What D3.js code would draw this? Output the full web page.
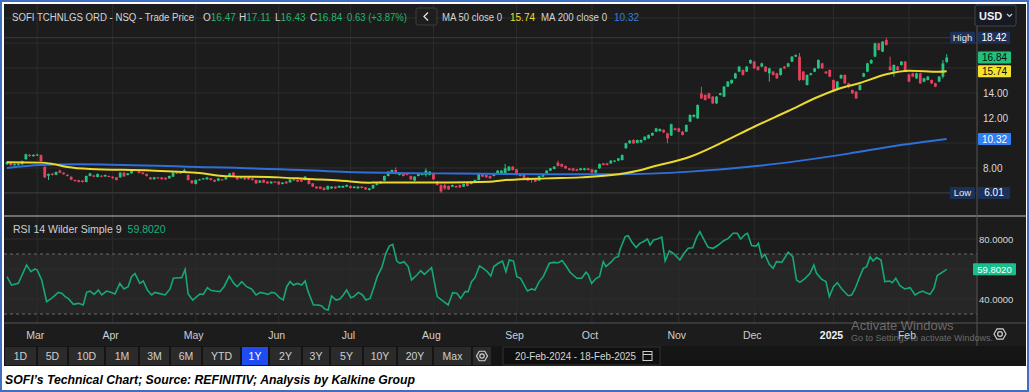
<!DOCTYPE html>
<html>
<head>
<meta charset="utf-8">
<script src="https://cdn.jsdelivr.net/npm/d3@7"></script>
<style>
  body { margin: 0; background: #fff; }
  svg { display: block; }
  text { font-family: "Liberation Sans", Arial, sans-serif; }
</style>
</head>
<body>
<div id="chart"></div>
<script>
// daily candles, 20-Feb-2024 .. 18-Feb-2025, [open, high, low, close]
const ohlc = [
  [8.30,8.55,8.25,8.48],[8.40,8.45,8.18,8.22],[8.22,8.36,8.18,8.32],[8.24,8.38,8.20,8.34],[8.30,8.60,8.26,8.55],
  [8.70,9.15,8.66,9.10],[9.05,9.12,8.90,8.95],[8.95,9.10,8.90,9.05],[9.00,9.14,8.96,9.08],[9.04,9.08,8.50,8.55],
  [8.10,8.12,7.20,7.25],[7.38,7.56,7.04,7.52],[7.55,7.60,7.40,7.45],[7.45,7.72,7.42,7.68],[7.80,7.86,7.58,7.62],
  [7.62,7.66,7.46,7.50],[7.45,7.50,7.32,7.36],[7.30,7.34,7.02,7.06],[7.04,7.08,6.92,6.95],[7.02,7.06,6.85,6.88],
  [6.99,7.02,6.84,6.88],[6.88,7.40,6.85,7.36],[7.36,7.62,7.33,7.57],[7.40,7.45,7.26,7.30],[7.28,7.56,7.25,7.52],
  [7.38,7.42,7.26,7.30],[7.32,7.48,7.29,7.44],[7.36,7.40,7.26,7.30],[7.30,7.34,7.14,7.18],[7.25,7.28,7.00,7.04],
  [7.25,7.67,7.22,7.63],[7.63,7.68,7.29,7.33],[7.44,7.61,7.40,7.57],[7.57,7.84,7.54,7.80],[7.80,7.90,7.76,7.84],
  [7.72,7.76,7.56,7.60],[7.63,7.67,7.48,7.52],[7.52,7.56,7.32,7.36],[7.25,7.28,7.06,7.10],[7.10,7.29,7.07,7.25],
  [7.25,7.28,7.13,7.17],[7.25,7.28,7.06,7.10],[7.22,7.25,7.05,7.09],[7.17,7.40,7.14,7.36],[7.31,7.67,7.28,7.63],
  [7.63,7.68,7.53,7.57],[7.57,7.74,7.54,7.70],[7.70,7.95,7.66,7.84],[7.44,7.48,7.00,7.04],[7.00,7.03,6.74,6.78],
  [6.72,7.08,6.68,7.04],[7.04,7.13,7.00,7.09],[7.09,7.21,7.05,7.17],[7.09,7.29,7.06,7.25],[7.17,7.21,7.00,7.04],
  [7.04,7.08,6.87,6.91],[6.99,7.21,6.95,7.17],[7.09,7.13,7.00,7.04],[7.09,7.35,7.06,7.31],[7.31,7.61,7.28,7.57],
  [7.63,7.67,7.27,7.31],[7.31,7.35,7.05,7.09],[7.17,7.35,7.14,7.31],[7.25,7.29,7.05,7.09],[7.25,7.28,7.06,7.09],
  [7.17,7.21,7.00,7.04],[7.04,7.07,6.73,6.77],[6.83,7.03,6.80,6.99],[7.04,7.08,6.80,6.83],[6.91,6.95,6.73,6.77],
  [6.77,6.95,6.74,6.91],[6.91,6.95,6.80,6.83],[6.91,6.94,6.65,6.69],[6.72,6.87,6.69,6.83],[6.91,6.95,6.73,6.77],
  [6.85,7.13,6.82,7.09],[7.04,7.13,7.00,7.09],[7.04,7.08,6.87,6.91],[7.04,7.08,6.88,6.91],[7.04,7.35,7.00,7.31],
  [7.09,7.12,6.68,6.72],[6.77,6.80,6.47,6.51],[6.51,6.55,6.33,6.37],[6.51,6.54,6.31,6.35],[6.43,6.46,6.20,6.24],
  [6.29,6.60,6.26,6.56],[6.37,6.55,6.34,6.51],[6.51,6.55,6.33,6.37],[6.43,6.60,6.40,6.56],[6.43,6.60,6.40,6.56],
  [6.51,6.68,6.48,6.64],[6.56,6.60,6.36,6.40],[6.40,6.55,6.37,6.51],[6.37,6.55,6.34,6.51],[6.51,6.55,6.37,6.40],
  [6.45,6.48,6.25,6.29],[6.24,6.41,6.20,6.37],[6.37,6.68,6.34,6.64],[6.64,6.81,6.61,6.77],[6.77,6.95,6.74,6.91],
  [6.99,7.40,6.96,7.36],[7.36,7.75,7.33,7.71],[7.57,7.88,7.54,7.84],[7.84,8.05,7.48,7.52],[7.44,7.67,7.41,7.63],
  [7.57,7.61,7.32,7.36],[7.57,7.61,7.40,7.44],[7.36,7.40,7.05,7.09],[6.99,7.35,6.96,7.31],[7.36,7.56,7.33,7.52],
  [7.44,7.61,7.41,7.57],[7.44,7.97,7.31,7.79],[7.44,7.75,7.41,7.71],[7.57,7.61,7.05,7.09],[6.91,6.95,6.60,6.64],
  [6.62,6.70,6.01,6.12],[6.64,6.75,6.24,6.37],[6.56,6.60,6.25,6.29],[6.51,6.68,6.48,6.64],[6.56,6.60,6.41,6.45],
  [6.64,6.68,6.41,6.45],[6.51,6.76,6.48,6.72],[6.83,6.87,6.52,6.56],[6.72,6.95,6.69,6.91],[6.83,7.08,6.80,7.04],
  [7.04,7.61,7.01,7.57],[7.52,7.56,7.27,7.31],[7.44,7.48,7.21,7.25],[7.36,7.40,7.13,7.17],[7.36,7.61,7.33,7.57],
  [7.57,7.83,7.54,7.79],[7.52,7.83,7.49,7.79],[7.57,8.32,7.54,7.97],[7.79,8.15,7.76,8.11],[8.11,8.15,7.80,7.84],
  [7.90,7.94,7.40,7.44],[7.52,7.56,7.32,7.36],[7.57,7.61,7.13,7.17],[7.25,7.29,6.95,6.99],[7.17,7.21,6.83,7.04],
  [7.17,7.21,6.87,6.91],[6.99,7.40,6.96,7.36],[7.31,7.56,7.28,7.52],[7.57,7.83,7.54,7.79],[7.79,8.01,7.76,7.97],
  [7.92,8.15,7.89,8.11],[8.43,8.59,8.12,8.16],[8.32,8.36,8.07,8.11],[8.16,8.20,7.93,7.97],[7.97,8.01,7.80,7.84],
  [7.97,8.01,7.75,7.79],[7.90,7.94,7.75,7.79],[7.84,8.01,7.80,7.97],[7.84,8.01,7.80,7.97],[7.97,8.01,7.80,7.84],
  [7.90,7.94,7.59,7.63],[7.63,7.88,7.59,7.84],[7.97,8.36,7.94,8.32],[8.37,8.41,8.20,8.24],[8.37,8.41,8.20,8.24],
  [8.37,8.63,8.33,8.59],[8.51,8.63,8.47,8.59],[8.59,8.81,8.55,8.77],[8.64,9.08,8.60,9.04],[9.58,10.02,9.54,9.98],
  [9.98,10.24,9.94,10.20],[10.24,10.30,9.93,9.97],[10.00,10.28,9.96,10.24],[10.05,10.28,10.01,10.24],[10.24,10.55,10.20,10.50],
  [10.37,10.68,10.33,10.64],[10.60,10.85,10.56,10.80],[10.91,11.22,10.87,11.17],[10.95,11.17,10.91,11.12],[11.05,11.10,10.80,10.85],
  [10.77,10.82,9.97,10.37],[10.60,11.55,10.56,11.50],[11.17,11.22,11.00,11.04],[11.17,11.22,10.87,10.91],[10.91,10.96,10.60,10.64],
  [10.91,11.49,10.87,11.44],[11.71,12.29,11.67,12.24],[12.10,12.30,12.05,12.24],[11.97,13.09,11.93,13.04],[13.97,14.50,13.53,13.57],
  [13.84,13.90,13.40,13.44],[13.97,14.02,13.53,13.57],[13.71,13.76,13.13,13.17],[13.17,13.76,13.13,13.71],[13.84,14.02,13.80,13.97],
  [13.71,14.56,13.67,14.51],[14.51,14.96,14.47,14.91],[14.77,15.09,14.73,15.04],[15.17,15.62,15.13,15.57],[15.71,16.16,15.67,16.11],
  [15.84,15.89,15.40,15.44],[15.71,16.16,15.67,16.11],[16.37,16.69,16.33,16.64],[16.51,16.56,15.93,15.97],[16.11,16.16,15.80,15.84],
  [16.11,16.42,16.07,16.37],[16.11,16.16,15.67,15.71],[15.57,16.02,14.91,15.97],[15.71,15.76,15.40,15.44],[15.57,15.62,15.13,15.17],
  [15.44,16.02,15.40,15.97],[16.11,16.16,15.93,15.97],[16.11,16.42,16.07,16.37],[16.51,16.96,16.47,16.91],[16.91,17.09,16.87,17.04],
  [16.91,17.20,14.95,15.04],[15.71,15.76,15.00,15.04],[14.64,15.49,14.60,15.44],[15.44,15.62,15.40,15.57],[15.71,16.02,15.67,15.97],
  [15.97,16.69,15.93,16.64],[16.37,16.42,15.93,15.97],[15.71,15.76,15.53,15.57],[15.84,15.89,15.27,15.31],[15.04,15.08,14.07,14.11],
  [14.24,14.96,14.20,14.91],[15.17,15.49,15.13,15.44],[15.44,15.49,14.73,14.77],[14.77,14.82,14.37,14.51],[14.24,14.28,13.93,13.97],
  [14.11,14.15,13.53,13.57],[14.24,14.69,14.20,14.64],[15.31,15.62,15.27,15.57],[15.71,16.42,15.67,16.37],[16.37,16.69,16.33,16.64],
  [16.91,18.02,16.87,17.97],[17.97,18.02,17.40,17.44],[17.31,18.16,17.27,18.11],[18.24,18.42,17.80,17.84],[16.11,16.91,15.80,15.84],
  [15.71,16.29,15.31,16.24],[16.11,16.16,15.80,15.84],[16.24,16.56,16.20,16.51],[16.51,16.56,15.67,15.71],[15.49,15.53,14.87,14.91],
  [15.57,15.62,15.27,15.31],[15.17,15.62,15.13,15.57],[15.57,15.62,14.73,14.77],[14.91,15.22,14.87,15.17],[15.04,15.36,15.00,15.31],
  [15.04,15.08,14.73,14.77],[14.77,14.82,14.47,14.51],[14.91,15.36,14.87,15.31],[15.31,16.64,15.17,16.37],[16.47,17.11,16.43,16.84]
];

// moving averages, [day index, value]
const ma50 = [[0,8.46],[9,8.43],[12,8.33],[16,8.08],[22,7.92],[38,7.8],[51,7.6],[58,7.35],[72,7.25],[80,7.12],
  [88,7.0],[96,6.83],[105,6.85],[117,6.85],[128,6.9],[131,7.0],[143,7.17],[152,7.25],[162,7.5],[168,7.84],
  [171,8.1],[181,8.9],[189,9.97],[198,11.3],[207,12.56],[215,13.7],[221,14.4],[226,14.8],[233,15.5],[239,15.78],
  [247,15.7],[249,15.74]];
const ma200 = [[0,8.0],[9,8.24],[19,8.3],[48,8.1],[78,7.84],[90,7.68],[115,7.57],[141,7.5],[162,7.5],[181,7.71],
  [200,8.2],[223,9.15],[236,9.8],[249,10.32]];

// RSI 14, [day index, value]
const rsi = [[0,54.9],[1.2,49.3],[3,50.4],[5.2,62.7],[6.3,58.2],[7.4,60],[8,59.3],[9.2,52.7],[10.5,38.2],[11.8,40.4],
  [13.6,44.4],[14.5,43.8],[15.4,41.6],[16.2,40.4],[17.6,36.4],[18.9,37.1],[20.2,36],[21.1,44.4],[22,45.3],[23.1,43.1],
  [24.2,46],[25.1,42.7],[26.4,45.3],[27.5,44.5],[28.6,43.3],[29.9,50.4],[31,46.7],[32.1,48.2],[33,54.9],[33.9,56.9],
  [35.2,50.4],[36.1,52],[37.2,46],[38.3,42.7],[39.2,44.4],[40.5,43.6],[41.9,42.7],[43.2,46.7],[44.1,53.8],[45.4,54.2],
  [46.3,54.2],[47.2,59.8],[48,43.3],[49.2,39.3],[50.3,41.6],[51.1,43.3],[52,43.1],[53.1,47.6],[54,45.8],[55.1,45.3],
  [56.4,44.9],[57.5,48.2],[58.9,55.3],[60.1,50.4],[61,48.2],[62.2,51.6],[63.5,48.2],[64.8,46.7],[66,42.7],[67.2,44.4],
  [68.4,43.6],[69.2,43.1],[70.1,44.4],[71,44],[72.2,40.9],[73.2,39.3],[74.1,48.2],[75,51.6],[75.9,49.3],[76.9,50.4],
  [78.1,49.3],[79,52],[79.8,44.9],[81.2,36],[82.5,36],[83.4,35.3],[84.3,33.1],[85.1,32.7],[86,42],[87.2,39.3],
  [88.2,40],[89.1,42.7],[90,46],[91.1,40.9],[91.9,41.6],[93.1,44.4],[94.2,42.7],[95.1,39.3],[96.2,40.4],[97.2,47.6],
  [98.1,54.9],[99.3,60.9],[100.4,70.4],[101.3,75.3],[102.2,76.4],[103.3,65.3],[104.1,63.8],[105.2,64.9],[106.3,61.6],[107.2,52.7],
  [108.6,56],[109.6,58.9],[110.6,56.4],[111.6,58.7],[112.5,60.9],[114,41.6],[115.2,39.3],[116.9,36],[118.1,44.2],[119.2,43.8],
  [120.2,40.4],[121.4,44.9],[122.2,44.9],[123.1,51.6],[124,54.2],[125.2,62],[126.2,60.4],[127.3,58.2],[128.2,55.3],[129,61.6],
  [130.2,63.8],[131.3,65.3],[132.2,58.2],[133.1,66],[134.2,65.3],[135.1,54.9],[136.1,53.8],[137.9,45.3],[139,46.7],[139.9,46],
  [141,51.6],[142.1,54.9],[143.7,63.8],[144.8,64.4],[146.1,64.2],[147.1,65.6],[148.1,62.2],[149.2,57.8],[151,53.8],[152.3,53.8],
  [153.4,57.8],[154,56.4],[154.9,50.4],[156.1,53.8],[157,54.9],[158,64.9],[158.7,61.6],[160.2,64.9],[161.1,67.6],[162,68.2],
  [162.4,72.7],[163.8,81.6],[164.6,82.2],[165.5,78.2],[166.7,74.4],[167.7,77.1],[168.6,78.2],[169.7,80],[170.4,76],[171.3,79.3],
  [172.3,80],[173.5,81.3],[174.4,65.3],[175.5,72],[176.6,70.4],[178.3,66],[179.4,70.4],[180.5,73.8],[181.7,74.2],[182.7,80.9],
  [183.6,84.9],[184.5,80.4],[185.8,74.4],[187.1,73.8],[188.5,76],[189.8,78.7],[191.1,80.4],[192.4,83.8],[193.5,83.8],[194.4,80],
  [195.6,83.1],[196.2,83.8],[197.3,75.6],[198.5,75.3],[199.1,77.1],[200,67.6],[200.8,69.8],[202,63.1],[203,60.4],[203.9,64.9],
  [205.3,64.4],[207,71.1],[208.2,68.2],[209.2,52.7],[210.1,51.1],[211.5,53.8],[212.8,57.1],[213.8,62.7],[214.5,57.1],[215.9,53.1],
  [217,51.6],[217.9,41.6],[219,48.2],[220,50.9],[221.2,46.7],[222.9,42.2],[223.8,42.7],[224.7,46.7],[225.8,53.8],[226.9,60.4],
  [227.8,61.6],[228.7,68.2],[229.5,65.3],[230.4,67.6],[231.6,66],[232.6,51.6],[233.9,52],[234.6,50.9],[235.5,53.8],[236.6,48.9],
  [237.9,46.7],[239.3,47.6],[240.6,42.7],[241.7,44.4],[242.6,45.3],[243.5,44.2],[244.6,43.1],[245.6,47.1],[246.5,55.6],[249,59.8]];

const monthLabels = ["Mar","Apr","May","Jun","Jul","Aug","Sep","Oct","Nov","Dec","2025","Feb"];
const monthStart = [8,28,50,72,91,113,135,155,178,198,219,239];
const priceTicks = [6,8,10,12,14,16,18,20];
const rsiTicks = [40,60,80];
const rangeButtons = ["1D","5D","10D","1M","3M","6M","YTD","1Y","2Y","3Y","5Y","10Y","20Y","Max"];
const buttonWidths = [33,31,37,34,31,32,39,28,33,28,33,34,36,39];
const lastBar = {open:16.47, high:17.11, low:16.43, close:16.84, chg:"0.63 (+3.87%)"};
const ma50Last = 15.74, ma200Last = 10.32, rsiLast = 59.802;
const hiVal = 18.42, loVal = 6.01;

const W = 1029, H = 392;
const left = 4, axisX = 977;
const up = "#26c281", down = "#e5415d";

const svg = d3.select("#chart").append("svg").attr("width", W).attr("height", H);

// frame
svg.append("rect").attr("x", 1).attr("y", 1).attr("width", W - 2).attr("height", H - 2)
   .attr("fill", "#fff").attr("stroke", "#3f6fc0").attr("stroke-width", 2);
svg.append("rect").attr("x", 4).attr("y", 4).attr("width", 1022).attr("height", 362).attr("fill", "#1c1c1c");

const x = d3.scaleLinear().domain([0, 249]).range([7, 946.7]);
const yP = d3.scaleLinear().domain([6, 18]).range([193, 43]);
const yR = d3.scaleLinear().domain([40, 80]).range([299, 239]);

const defs = svg.append("defs");
defs.append("clipPath").attr("id", "clipP").append("rect")
    .attr("x", left).attr("y", 4).attr("width", axisX - left).attr("height", 211);
defs.append("clipPath").attr("id", "clipR").append("rect")
    .attr("x", left).attr("y", 217).attr("width", axisX - left).attr("height", 105);

// rsi band
svg.append("rect").attr("x", left).attr("width", axisX - left)
   .attr("y", yR(70)).attr("height", yR(30) - yR(70)).attr("fill", "#262626");

// grid
const grid = svg.append("g").attr("stroke", "#2c2c2c").attr("stroke-width", 1);
grid.selectAll(".vg").data(monthStart).join("line")
    .attr("x1", d => x(d)).attr("x2", d => x(d)).attr("y1", 4).attr("y2", 323);
grid.selectAll(".hg").data(priceTicks).join("line")
    .attr("x1", left).attr("x2", axisX).attr("y1", d => yP(d)).attr("y2", d => yP(d));
grid.selectAll(".rg").data(rsiTicks).join("line")
    .attr("x1", left).attr("x2", axisX).attr("y1", d => yR(d)).attr("y2", d => yR(d));

[70, 30].forEach(v => {
  svg.append("line").attr("x1", left).attr("x2", axisX).attr("y1", yR(v)).attr("y2", yR(v))
     .attr("stroke", "#6a6a6a").attr("stroke-dasharray", "3,3");
});

// high / low guide lines
[hiVal, loVal].forEach(v => {
  svg.append("line").attr("x1", left).attr("x2", 950).attr("y1", yP(v)).attr("y2", yP(v))
     .attr("stroke", "#3a3a44").attr("stroke-width", 1);
});

// candles
const pricePanel = svg.append("g").attr("clip-path", "url(#clipP)");
const candle = pricePanel.selectAll("g.c").data(ohlc).join("g");
candle.append("line")
    .attr("x1", (d, i) => x(i)).attr("x2", (d, i) => x(i))
    .attr("y1", d => yP(d[1])).attr("y2", d => yP(d[2]))
    .attr("stroke", d => d[3] >= d[0] ? up : down).attr("stroke-width", 1);
candle.append("rect")
    .attr("x", (d, i) => x(i) - 1.4).attr("width", 2.8)
    .attr("y", d => yP(Math.max(d[0], d[3])))
    .attr("height", d => Math.max(1, Math.abs(yP(d[0]) - yP(d[3]))))
    .attr("fill", d => d[3] >= d[0] ? up : down);

// moving averages
const maLine = d3.line().x(d => x(d[0])).y(d => yP(d[1])).curve(d3.curveMonotoneX);
pricePanel.append("path").datum(ma200).attr("d", maLine)
    .attr("fill", "none").attr("stroke", "#2f6fdc").attr("stroke-width", 2);
pricePanel.append("path").datum(ma50).attr("d", maLine)
    .attr("fill", "none").attr("stroke", "#ecd930").attr("stroke-width", 2);

// rsi line
svg.append("g").attr("clip-path", "url(#clipR)").append("path").datum(rsi)
   .attr("d", d3.line().x(d => x(d[0])).y(d => yR(d[1])))
   .attr("fill", "none").attr("stroke", "#16a77a").attr("stroke-width", 1.6);

// panel separators
svg.append("line").attr("x1", left).attr("x2", 1026).attr("y1", 216).attr("y2", 216)
   .attr("stroke", "#8a8a8a").attr("stroke-width", 1.5);
svg.append("line").attr("x1", left).attr("x2", 1026).attr("y1", 323).attr("y2", 323)
   .attr("stroke", "#555").attr("stroke-width", 1);
svg.append("line").attr("x1", axisX).attr("x2", axisX).attr("y1", 4).attr("y2", 346)
   .attr("stroke", "#555").attr("stroke-width", 1);

// value tags on the axis (their levels hide the nearby tick labels)
const priceTags = [hiVal, lastBar.close, ma50Last, ma200Last, loVal];
const topLimit = 28; // the currency selector covers the axis above this
const shownP = priceTicks.filter(t => yP(t) > topLimit && priceTags.every(v => Math.abs(yP(t) - yP(v)) > 7));
const shownR = rsiTicks.filter(t => Math.abs(yR(t) - yR(rsiLast)) > 7);

const axP = svg.append("g").attr("transform", `translate(${axisX},0)`)
   .call(d3.axisRight(yP).tickValues(shownP).tickFormat(d3.format(".2f")).tickSize(0).tickPadding(6));
const axR = svg.append("g").attr("transform", `translate(${axisX},0)`)
   .call(d3.axisRight(yR).tickValues(shownR).tickFormat(d3.format(".4f")).tickSize(0).tickPadding(2));
[axP, axR].forEach(a => {
  a.select(".domain").remove();
  a.selectAll("text").attr("fill", "#d8d8d8").attr("font-family", "'Liberation Sans', Arial, sans-serif");
});
axP.selectAll("text").attr("font-size", 10);
axR.selectAll("text").attr("font-size", 9.5);

function tag(xp, w, v, label, fill, color, fs) {
  const g = svg.append("g");
  g.append("rect").attr("x", xp).attr("y", v - 6).attr("width", w).attr("height", 12).attr("rx", 1).attr("fill", fill);
  g.append("text").attr("x", xp + w / 2).attr("y", v + 3.6).attr("text-anchor", "middle")
   .attr("font-size", fs || 10).attr("fill", color).text(label);
}
tag(950, 25, yP(hiVal), "High", "#1d3057", "#e8e8e8", 9.5);
tag(978, 32, yP(hiVal), hiVal.toFixed(2), "#1d3057", "#ffffff");
tag(950, 25, yP(loVal), "Low", "#1d3057", "#e8e8e8", 9.5);
tag(978, 32, yP(loVal), loVal.toFixed(2), "#1d3057", "#ffffff");
tag(978, 33, yP(lastBar.close), lastBar.close.toFixed(2), "#22c07a", "#0c0c0c");
tag(978, 33, yP(ma50Last), ma50Last.toFixed(2), "#f3e32c", "#0c0c0c");
tag(978, 33, yP(ma200Last), ma200Last.toFixed(2), "#2f7ff5", "#ffffff");
tag(973, 43, yR(rsiLast), rsiLast.toFixed(4), "#17bf8c", "#ffffff", 9.5);

// header
const hdr = svg.append("g").attr("font-size", 10);
hdr.append("text").attr("x", 12).attr("y", 20.5).attr("fill", "#d4d4d4")
   .attr("textLength", 182).attr("lengthAdjust", "spacingAndGlyphs")
   .text("SOFI TCHNLGS ORD - NSQ - Trade Price");
const ohlcPos = [203, 239, 275, 310];
[["O", lastBar.open], ["H", lastBar.high], ["L", lastBar.low], ["C", lastBar.close]].forEach((p, i) => {
  const t = hdr.append("text").attr("x", ohlcPos[i]).attr("y", 20.5);
  t.append("tspan").attr("fill", "#d4d4d4").text(p[0]);
  t.append("tspan").attr("fill", "#22b56c").text(p[1].toFixed(2));
});
hdr.append("text").attr("x", 347).attr("y", 20.5).attr("fill", "#22b56c")
   .attr("textLength", 60).attr("lengthAdjust", "spacingAndGlyphs").text(lastBar.chg);
hdr.append("rect").attr("x", 416).attr("y", 8).attr("width", 21).attr("height", 17).attr("rx", 2)
   .attr("fill", "#1e1e1e").attr("stroke", "#3c3c3c");
hdr.append("path").attr("d", "M428,12.5 L424,16.5 L428,20.5").attr("fill", "none")
   .attr("stroke", "#e0e0e0").attr("stroke-width", 1.3);
hdr.append("text").attr("x", 442).attr("y", 20.5).attr("fill", "#d4d4d4")
   .attr("textLength", 60).attr("lengthAdjust", "spacingAndGlyphs").text("MA 50 close 0");
hdr.append("text").attr("x", 510).attr("y", 20.5).attr("fill", "#f0df2a").text(ma50Last.toFixed(2));
hdr.append("text").attr("x", 541).attr("y", 20.5).attr("fill", "#d4d4d4")
   .attr("textLength", 66).attr("lengthAdjust", "spacingAndGlyphs").text("MA 200 close 0");
hdr.append("text").attr("x", 614).attr("y", 20.5).attr("fill", "#3b7ddd").text(ma200Last.toFixed(2));

// currency selector
svg.append("rect").attr("x", 975).attr("y", 5).attr("width", 41).attr("height", 21).attr("rx", 2)
   .attr("fill", "#171a22").attr("stroke", "#3b4250");
svg.append("text").attr("x", 979).attr("y", 19.5).attr("font-size", 11).attr("font-weight", "bold")
   .attr("fill", "#f0f0f0").text("USD");
svg.append("path").attr("d", "M1007,14 L1009.5,16.5 L1012,14").attr("fill", "none")
   .attr("stroke", "#cfcfcf").attr("stroke-width", 1.2);

// rsi title
const rt = svg.append("text").attr("x", 13).attr("y", 232.5).attr("font-size", 10.5);
rt.append("tspan").attr("fill", "#d0d0d0").text("RSI 14 Wilder Simple 9");
rt.append("tspan").attr("dx", 6).attr("fill", "#17b07f").text(rsiLast.toFixed(4));

// month labels
svg.append("g").selectAll("text").data(monthLabels).join("text")
   .attr("x", (d, i) => x(monthStart[i]) - 2).attr("y", 339)
   .attr("text-anchor", "middle").attr("font-size", 10.5)
   .attr("font-weight", d => d === "2025" ? "bold" : "normal")
   .attr("fill", d => d === "2025" ? "#f2f2f2" : "#cfcfcf").text(d => d);

// windows watermark
svg.append("text").attr("x", 851).attr("y", 330).attr("font-size", 13).attr("fill", "#9c9c9c")
   .attr("opacity", 0.6).text("Activate Windows");
svg.append("text").attr("x", 851).attr("y", 341).attr("font-size", 9).attr("fill", "#9c9c9c")
   .attr("opacity", 0.6).text("Go to Settings to activate Windows.");

// range buttons
svg.append("rect").attr("x", 4).attr("y", 346).attr("width", 1022).attr("height", 20).attr("fill", "#151515");
let bx = 4;
const btn = svg.append("g").attr("font-size", 10.5);
rangeButtons.forEach((b, i) => {
  const w = buttonWidths[i];
  btn.append("rect").attr("x", bx + 1).attr("y", 347).attr("width", w - 2).attr("height", 18)
     .attr("fill", b === "1Y" ? "#1f4cf2" : "#2b2b2b");
  btn.append("text").attr("x", bx + w / 2).attr("y", 360).attr("text-anchor", "middle")
     .attr("fill", b === "1Y" ? "#ffffff" : "#cfcfcf").text(b);
  bx += w;
});
btn.append("rect").attr("x", bx + 1).attr("y", 347).attr("width", 18).attr("height", 18).attr("fill", "#2b2b2b");

function gear(cx, cy, r) {
  const pts = d3.range(6).map(k => [cx + r * Math.cos(Math.PI / 3 * k), cy + r * Math.sin(Math.PI / 3 * k)]);
  svg.append("path").attr("d", d3.line()(pts) + "Z").attr("fill", "none")
     .attr("stroke", "#cfcfcf").attr("stroke-width", 1.2);
  svg.append("circle").attr("cx", cx).attr("cy", cy).attr("r", r * 0.4)
     .attr("fill", "none").attr("stroke", "#cfcfcf").attr("stroke-width", 1.2);
}
gear(bx + 10, 356, 5.5);
gear(1000, 334, 6);

// date range box
svg.append("rect").attr("x", 503).attr("y", 347).attr("width", 157).attr("height", 18)
   .attr("fill", "#101010").attr("stroke", "#333");
svg.append("text").attr("x", 515).attr("y", 360).attr("font-size", 10.5).attr("fill", "#d4d4d4")
   .attr("textLength", 121).attr("lengthAdjust", "spacingAndGlyphs")
   .text("20-Feb-2024 - 18-Feb-2025");
svg.append("rect").attr("x", 643).attr("y", 351.5).attr("width", 9).attr("height", 9)
   .attr("fill", "none").attr("stroke", "#cfcfcf");
svg.append("line").attr("x1", 643).attr("x2", 652).attr("y1", 354.5).attr("y2", 354.5).attr("stroke", "#cfcfcf");

// caption
svg.append("text").attr("x", 5).attr("y", 384).attr("font-size", 13).attr("font-weight", "bold")
   .attr("font-style", "italic").attr("fill", "#000").attr("textLength", 410).attr("lengthAdjust", "spacingAndGlyphs")
   .text("SOFI\u2019s Technical Chart; Source: REFINITIV; Analysis by Kalkine Group");
</script>
</body>
</html>
